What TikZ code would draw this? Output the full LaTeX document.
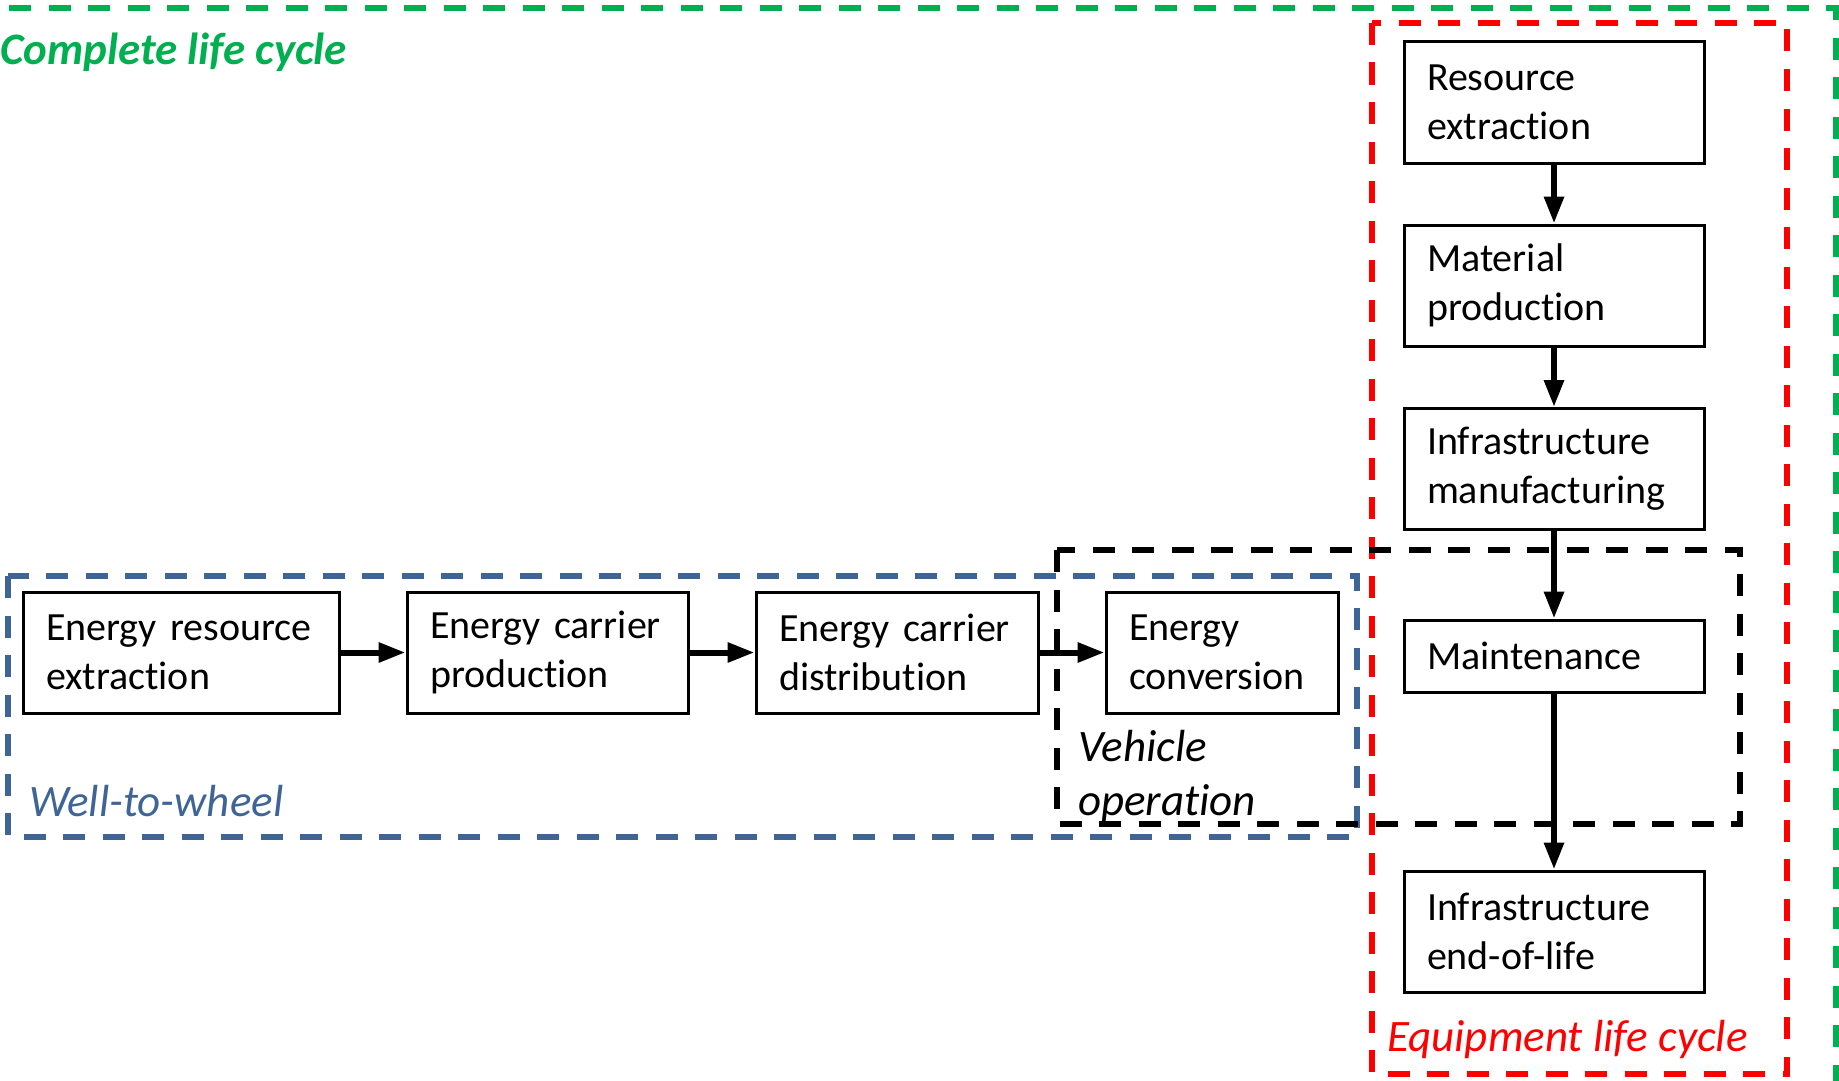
\documentclass[tikz,border=0pt]{standalone}
\usepackage{fontspec}
\setmainfont{Carlito}[Ligatures={NoCommon,NoContextual}]
\usetikzlibrary{arrows.meta}
\definecolor{lcgreen}{HTML}{00B050}
\definecolor{lcred}{HTML}{FF0000}
\definecolor{lcblue}{HTML}{3F6597}
\begin{document}
\begin{tikzpicture}[x=1pt,y=-1pt,
  proc/.style={draw=black, fill=white, line width=3pt, minimum height=121pt,
    inner sep=0pt, align=left, font=\fontsize{40}{49}\selectfont},
  flow/.style={line width=6pt, -{Triangle[length=27pt,width=19pt]}},
  frame/.style={line width=5.5pt, dash pattern=on 22pt off 17.5pt},
  lbl/.style={anchor=base west, inner sep=0pt, font=\fontsize{45}{55}\selectfont\itshape}]
\useasboundingbox (0,0) rectangle (1839,1081);
\clip (0,0) rectangle (1839,1081);

% scope frames
\draw[frame, lcgreen] (-40,8) rectangle (1836,1130);
\draw[frame, lcred] (1372,23) rectangle (1787,1074);
\draw[frame, lcblue] (8,576) rectangle (1357,837);
\draw[frame, black] (1057,550) rectangle (1740,824);

% frame labels
\node[lbl, lcgreen, font=\fontsize{45}{55}\selectfont\bfseries\itshape] (lcomplete) at (0,64) {Complete life cycle};
\node[lbl, lcblue] (lwtw) at (29,816) {Well-to-wheel};
\node[lbl, black] (lveh) at (1078,761) {Vehicle};
\node[lbl, black] (lop) at (1078,815) {operation};
\node[lbl, lcred] (lequip) at (1387,1051) {Equipment life cycle};

% well-to-wheel chain
\node[proc, minimum width=316pt, text width=270pt] (era) at (181,652.5) {Energy resource\\extraction};
\node[proc, minimum width=281pt, text width=235pt] (ecp) at (547.5,652.5) {Energy carrier\\production};
\node[proc, minimum width=282pt, text width=236pt] (ecd) at (897,652.5) {Energy carrier\\distribution};
\node[proc, minimum width=232pt, text width=186pt] (ec) at (1222,652.5) {Energy\\conversion};

% equipment chain
\node[proc, minimum width=300pt, text width=254pt] (re) at (1554,102.5) {Resource\\extraction};
\node[proc, minimum width=300pt, text width=254pt] (mp) at (1554,285.5) {Material\\production};
\node[proc, minimum width=300pt, text width=254pt] (im) at (1554,469) {Infrastructure\\manufacturing};
\node[proc, minimum width=300pt, text width=254pt, minimum height=72pt] (mt) at (1554,656) {Maintenance};
\node[proc, minimum width=300pt, text width=254pt] (eol) at (1554,931.5) {Infrastructure\\end-of-life};

% connectors
\draw[flow] (era) -- (ecp);
\draw[flow] (ecp) -- (ecd);
\draw[flow] (ecd) -- (ec);
\draw[flow] (re) -- (mp);
\draw[flow] (mp) -- (im);
\draw[flow] (im) -- (mt);
\draw[flow] (mt) -- (eol);
\end{tikzpicture}
\end{document}
